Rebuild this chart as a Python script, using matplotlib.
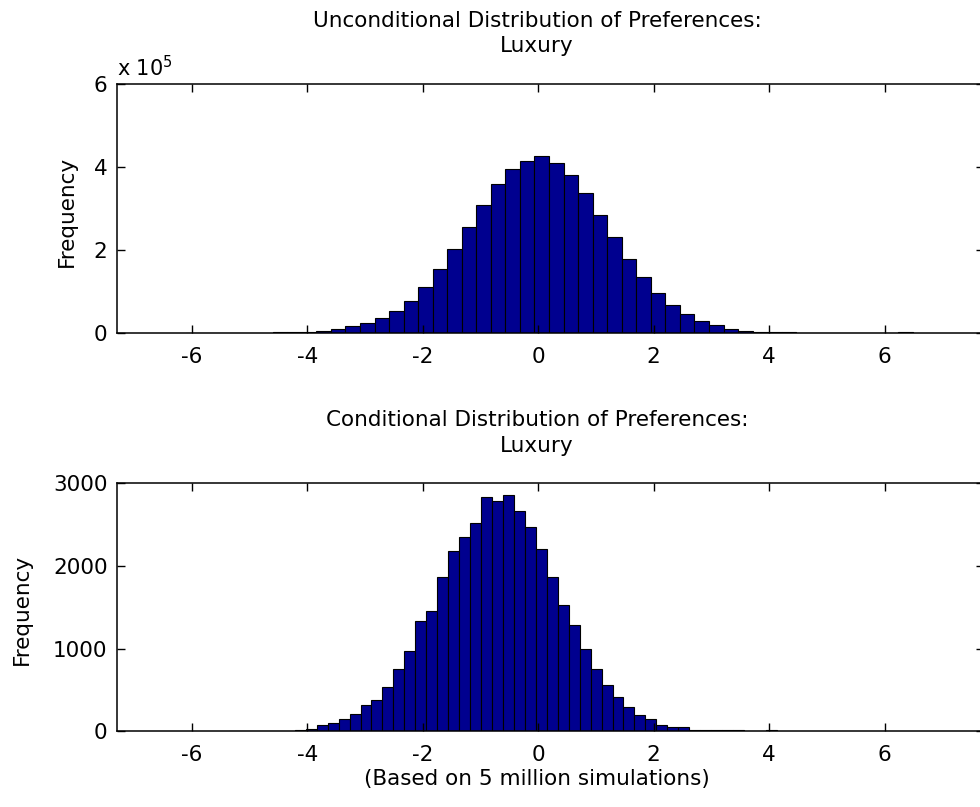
import numpy as np
import matplotlib
matplotlib.use("Agg")
import matplotlib.pyplot as plt
from matplotlib.ticker import FuncFormatter

plt.rcParams['font.family'] = ['DejaVu Sans']
plt.rcParams['axes.unicode_minus'] = False

# ---- data ----
title_top = "Unconditional Distribution of Preferences:\nLuxury"
title_bottom = "Conditional Distribution of Preferences:\nLuxury"
xlabel_bottom = "(Based on 5 million simulations)"
ylabel = "Frequency"

# unconditional histogram (50 bins)
uncond_bin_lo = -6.114
uncond_bin_width = 0.252
uncond_counts = [
    1, 3, 10, 30, 80, 200, 500, 1200, 2500, 5000,
    9600, 16000, 22500, 34500, 53000, 77000, 111000, 154000, 203000, 255000,
    309000, 358000, 396000, 414000, 426000, 411000, 382000, 337000, 284000, 231000,
    179000, 135000, 96000, 68000, 44000, 28000, 19000, 10000, 4000, 2000,
    1000, 500, 200, 80, 30, 10, 3, 1, 0, 2000,
]

# conditional histogram (50 bins)
cond_bin_lo = -5.36
cond_bin_width = 0.1899
cond_counts = [
    2, 2, 3, 5, 6, 8, 12, 25, 73, 100,
    153, 214, 314, 383, 536, 750, 967, 1330, 1455, 1866,
    2180, 2349, 2519, 2833, 2785, 2857, 2664, 2470, 2200, 1866,
    1523, 1282, 991, 750, 556, 415, 294, 193, 153, 81,
    52, 52, 20, 18, 15, 12, 10, 0, 0, 15,
]

x_ticks = [-6, -4, -2, 0, 2, 4, 6]
x_lim = (-7.296, 7.724)
uncond_yticks = [0, 200000, 400000, 600000]
cond_yticks = [0, 1000, 2000, 3000]

# ---- figure ----
W, H = 980, 807
fig = plt.figure(figsize=(W / 100, H / 100), dpi=100)

def px_axes(left, top, right, bottom):
    return fig.add_axes([left / W, 1 - bottom / H, (right - left) / W, (bottom - top) / H])

ax1 = px_axes(117.3, 84.3, 984, 332.7)
ax2 = px_axes(117.3, 483.3, 984, 731.3)

bar_color = '#00008F'
fs = 15.5

def draw(ax, lo, w, counts, yticks, ylim):
    counts = np.asarray(counts, dtype=float)
    lefts = lo + w * np.arange(len(counts))
    ax.bar(lefts, counts, width=w, align='edge', color=bar_color,
           edgecolor='black', linewidth=0.8)
    ax.set_xlim(*x_lim)
    ax.set_ylim(*ylim)
    ax.set_xticks(x_ticks)
    ax.set_yticks(yticks)
    ax.tick_params(direction='in', length=5.5, width=1.0, top=True, right=True,
                   labelsize=fs)
    ax.tick_params(axis='x', pad=10)
    ax.tick_params(axis='y', pad=7)
    for s in ax.spines.values():
        s.set_linewidth(1.1)

draw(ax1, uncond_bin_lo, uncond_bin_width, uncond_counts, uncond_yticks, (0, 600000))
draw(ax2, cond_bin_lo, cond_bin_width, cond_counts, cond_yticks, (0, 3000))

ax1.yaxis.set_major_formatter(FuncFormatter(lambda v, p: f"{v / 1e5:g}"))

# titles (two lines each)
cx = 537 / W
for line, ypx in zip(title_top.split("\n"), [21, 46]):
    fig.text(cx, 1 - ypx / H, line, ha='center', va='center', fontsize=fs)
for line, ypx in zip(title_bottom.split("\n"), [420, 446]):
    fig.text(cx, 1 - ypx / H, line, ha='center', va='center', fontsize=fs)

# exponent label
fig.text(117 / W, 1 - 76 / H, r'x 10$^{5}$', ha='left', va='baseline', fontsize=fs - 0.5)

# y labels
fig.text(67 / W, 1 - 211 / H, ylabel, rotation=90, ha='center', va='center', fontsize=fs)
fig.text(22 / W, 1 - 609 / H, ylabel, rotation=90, ha='center', va='center', fontsize=fs)

# x label
fig.text(cx, 1 - 779 / H, xlabel_bottom, ha='center', va='center', fontsize=fs)

fig.savefig("out.png", dpi=100, facecolor='white')
